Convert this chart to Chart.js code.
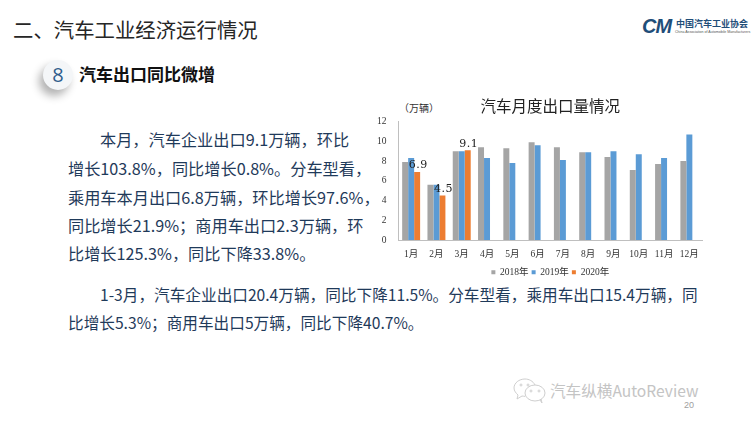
<!DOCTYPE html>
<html>
<head>
<meta charset="utf-8">
<script src="https://cdn.jsdelivr.net/npm/chart.js@4"></script>
<style>
  html, body { margin: 0; padding: 0; background: #fff; }
  body { width: 752px; height: 423px; position: relative; overflow: hidden; font-family: "Noto Sans CJK SC", sans-serif; }
  .abs { position: absolute; white-space: nowrap; }
  #heading { left: 13px; top: 16px; font-size: 20.4px; line-height: 26px; color: #262626; }
  #badge { left: 43px; top: 60px; width: 30px; height: 30px; border-radius: 50%; background: #f4f6f8; box-shadow: -4px 6px 9px rgba(0,0,0,.3); text-align: center; font-size: 20px; line-height: 29px; color: #2f5d8c; font-family: "Open Sans", sans-serif; }
  #subhead { left: 79px; top: 63px; font-size: 17px; line-height: 22px; font-weight: 700; color: #111; }
  .body { line-height: 20px; color: #1f3a5a; }
  .p1 { font-size: 16.2px; }
  .p2 { font-size: 15.65px; }
  #logo-mark { left: 642px; top: 15px; font: italic 700 20px/22px "Liberation Sans", sans-serif; color: #1f4e79; letter-spacing: -1px; }
  #logo-cn { left: 676px; top: 18px; font-size: 9px; line-height: 12px; font-weight: 700; color: #1f4e79; }
  #logo-en { left: 675px; top: 30px; font: 3.6px/5px "Liberation Sans", sans-serif; color: #555; }
  #wm { left: 550px; top: 379px; font-size: 15.6px; line-height: 22px; color: #c4c4c4; }
  #wm-icon { left: 513px; top: 378px; }
  #page { left: 684px; top: 399px; font: 9px/12px "Liberation Sans", sans-serif; color: #a0a0a0; }
  #unit { left: 399px; top: 102px; font-size: 10px; line-height: 12px; color: #333; }
  #wrap { position: absolute; left: 370px; top: 90px; width: 340px; height: 197px; }
</style>
</head>
<body>
<div class="abs" id="heading">二、汽车工业经济运行情况</div>
<div class="abs" id="badge">8</div>
<div class="abs" id="subhead">汽车出口同比微增</div>

<div class="abs body p1" style="left:100px;top:129px">本月，汽车企业出口9.1万辆，环比</div>
<div class="abs body p1" style="left:68px;top:158px">增长103.8%，同比增长0.8%。分车型看，</div>
<div class="abs body p1" style="left:68px;top:187px">乘用车本月出口6.8万辆，环比增长97.6%，</div>
<div class="abs body p1" style="left:68px;top:215px">同比增长21.9%；商用车出口2.3万辆，环</div>
<div class="abs body p1" style="left:68px;top:243px">比增长125.3%，同比下降33.8%。</div>
<div class="abs body p2" style="left:100px;top:285px">1-3月，汽车企业出口20.4万辆，同比下降11.5%。分车型看，乘用车出口15.4万辆，同</div>
<div class="abs body p2" style="left:68px;top:313px">比增长5.3%；商用车出口5万辆，同比下降40.7%。</div>

<div class="abs" id="logo-mark">CM</div>
<div class="abs" id="logo-cn">中国汽车工业协会</div>
<div class="abs" id="logo-en">China Association of Automobile Manufacturers</div>

<svg class="abs" id="wm-icon" width="34" height="26" viewBox="0 0 34 26" fill="none" stroke="#cfcfcf" stroke-width="1">
  <path d="M22 7C20 3 16 1 12 1 6 1 1 5 1 10c0 3 2 5 4 7l-1 4 5-3c1 0 2 .4 3 .4"/>
  <ellipse cx="22" cy="15" rx="10" ry="8"/>
  <path d="M27 22l2 3-1-4"/>
  <circle cx="8" cy="7" r="1"/><circle cx="15" cy="7" r="1"/>
  <circle cx="18" cy="13" r="1"/><circle cx="26" cy="13" r="1"/>
</svg>
<div class="abs" id="wm">汽车纵横AutoReview</div>
<div class="abs" id="page">20</div>

<div class="abs" id="unit">（万辆）</div>
<div id="wrap"><canvas id="exportChart" width="340" height="197"></canvas></div>

<script>
// valeurs
const months = ['1月','2月','3月','4月','5月','6月','7月','8月','9月','10月','11月','12月'];
const exports2018 = [7.9, 5.6, 9.0, 9.4, 9.3, 9.9, 9.4, 8.9, 8.4, 7.1, 7.7, 8.0];
const exports2019 = [8.3, 5.6, 9.0, 8.3, 7.8, 9.6, 8.1, 8.9, 9.0, 8.7, 8.3, 10.7];
const exports2020 = [6.9, 4.5, 9.1];
const yTicks = [0, 2, 4, 6, 8, 10, 12];

const labelFont = '"Liberation Serif", "Noto Sans CJK SC", serif';

// etiquettes de valeur sur la serie 2020
const valueLabels = {
  id: 'valueLabels',
  afterDatasetsDraw(chart) {
    const ctx = chart.ctx;
    const meta = chart.getDatasetMeta(2);
    ctx.save();
    ctx.font = '11px "DejaVu Serif", serif';
    ctx.letterSpacing = '0.5px';
    ctx.fillStyle = '#222';
    ctx.textAlign = 'center';
    ctx.textBaseline = 'bottom';
    meta.data.forEach((bar, i) => {
      ctx.fillText(exports2020[i].toFixed(1), bar.x + 1, bar.y - 1);
    });
    ctx.restore();
  }
};

new Chart(document.getElementById('exportChart'), {
  type: 'bar',
  data: {
    labels: months,
    datasets: [
      { label: '2018年', data: exports2018, backgroundColor: '#a5a5a5' },
      { label: '2019年', data: exports2019, backgroundColor: '#5b9bd5' },
      { label: '2020年', data: exports2020, backgroundColor: '#ed7d31' }
    ]
  },
  plugins: [valueLabels],
  options: {
    responsive: false,
    animation: false,
    devicePixelRatio: 1,
    layout: { padding: { left: 0, right: 8, top: 0, bottom: 0 } },
    datasets: { bar: { categoryPercentage: 0.71, barPercentage: 1 } },
    plugins: {
      tooltip: { enabled: false },
      title: {
        display: true,
        fullSize: false,
        text: '汽车月度出口量情况',
        color: '#222',
        font: { family: '"Noto Sans CJK SC"', size: 15.5, weight: 'normal' },
        padding: { top: 7, bottom: 6 }
      },
      legend: {
        position: 'bottom',
        fullSize: false,
        labels: {
          boxWidth: 4, boxHeight: 4, padding: 3, color: '#333',
          font: { family: labelFont, size: 9.5 }
        }
      }
    },
    scales: {
      x: {
        afterFit(axis) { axis.height = 24.5; },
        grid: { display: false, drawTicks: false },
        border: { color: '#bfbfbf' },
        ticks: { color: '#333', padding: 8.5, maxRotation: 0, font: { family: labelFont, size: 9.5 } }
      },
      y: {
        min: 0,
        max: 12,
        afterBuildTicks(axis) { axis.ticks = yTicks.map(v => ({ value: v })); },
        afterFit(axis) { axis.width = 28.5; },
        grid: { display: false, drawTicks: false },
        border: { color: '#bfbfbf' },
        ticks: { color: '#333', padding: 12, font: { family: labelFont, size: 9.5 } }
      }
    }
  }
});
</script>
</body>
</html>
